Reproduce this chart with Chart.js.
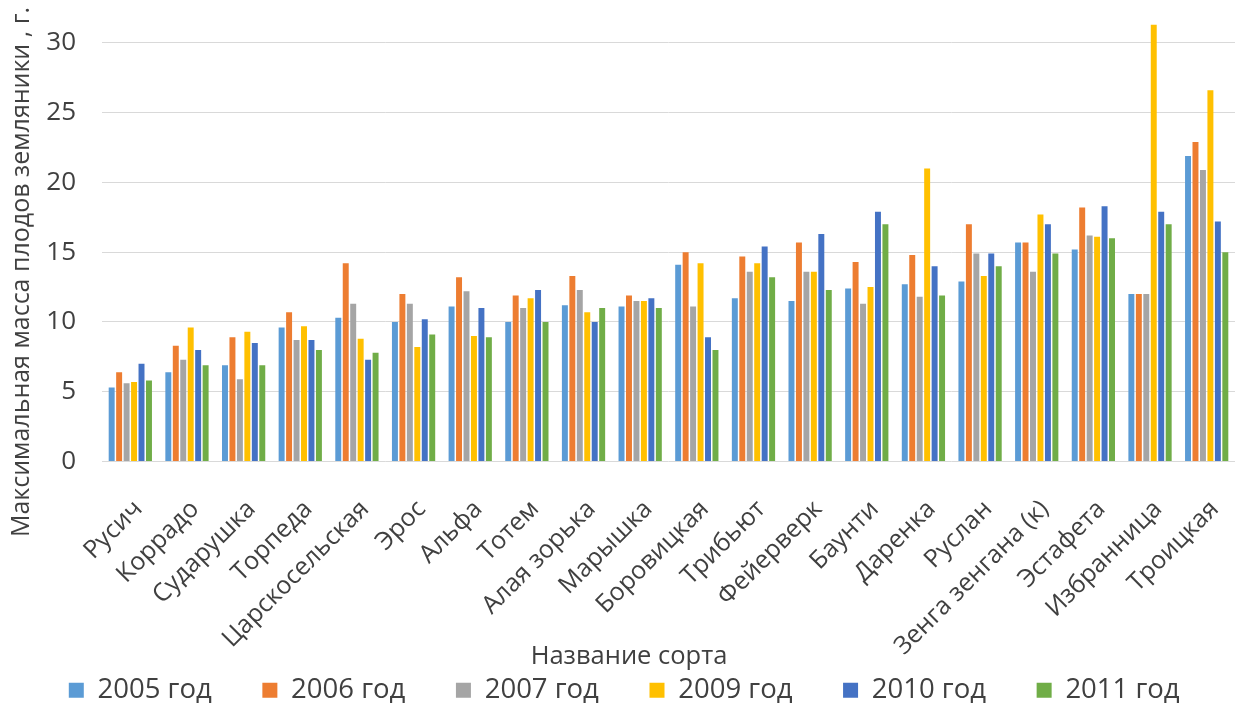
<!DOCTYPE html>
<html>
<head>
<meta charset="utf-8">
<script src="https://cdn.jsdelivr.net/npm/chart.js@4/dist/chart.umd.min.js"></script>
<style>
  html, body { margin: 0; padding: 0; background: #fff; }
  #wrap { position: relative; width: 1235px; height: 704px; }
</style>
</head>
<body>
<div id="wrap"><canvas id="bar_chart"></canvas></div>
<script>
// sorts and yearly max berry mass, g
var sorts = ["Русич", "Коррадо", "Сударушка", "Торпеда", "Царскосельская", "Эрос", "Альфа", "Тотем",
    "Алая зорька", "Марышка", "Боровицкая", "Трибьют", "Фейерверк", "Баунти", "Даренка", "Руслан",
    "Зенга зенгана (к)", "Эстафета", "Избранница", "Троицкая"];
var years = ["2005 год", "2006 год", "2007 год", "2009 год", "2010 год", "2011 год"];
var y2005 = [5.3, 6.4, 6.9, 9.6, 10.3, 10.0, 11.1, 10.0, 11.2, 11.1, 14.1, 11.7, 11.5, 12.4, 12.7, 12.9, 15.7, 15.2, 12.0, 21.9];
var y2006 = [6.4, 8.3, 8.9, 10.7, 14.2, 12.0, 13.2, 11.9, 13.3, 11.9, 15.0, 14.7, 15.7, 14.3, 14.8, 17.0, 15.7, 18.2, 12.0, 22.9];
var y2007 = [5.6, 7.3, 5.9, 8.7, 11.3, 11.3, 12.2, 11.0, 12.3, 11.5, 11.1, 13.6, 13.6, 11.3, 11.8, 14.9, 13.6, 16.2, 12.0, 20.9];
var y2009 = [5.7, 9.6, 9.3, 9.7, 8.8, 8.2, 9.0, 11.7, 10.7, 11.5, 14.2, 14.2, 13.6, 12.5, 21.0, 13.3, 17.7, 16.1, 31.3, 26.6];
var y2010 = [7.0, 8.0, 8.5, 8.7, 7.3, 10.2, 11.0, 12.3, 10.0, 11.7, 8.9, 15.4, 16.3, 17.9, 14.0, 14.9, 17.0, 18.3, 17.9, 17.2];
var y2011 = [5.8, 6.9, 6.9, 8.0, 7.8, 9.1, 8.9, 10.0, 11.0, 11.0, 8.0, 13.2, 12.3, 17.0, 11.9, 14.0, 14.9, 16.0, 17.0, 15.0];
var yTicks = [0, 5, 10, 15, 20, 25, 30];
var colors = ["#5b9bd5", "#ed7d31", "#a5a5a5", "#ffc000", "#4472c4", "#70ad47"];
var xTitle = "Название сорта";
var yTitle = "Максимальная масса плодов земляники , г.";

var FONT = '"Open Sans", "DejaVu Sans", sans-serif';

// axis titles drawn by hand so they sit where the original has them
var axisTitles = {
    id: "axisTitles",
    afterDraw: function (chart) {
        var ctx = chart.ctx;
        ctx.save();
        ctx.fillStyle = "#404040";
        ctx.textAlign = "center";
        ctx.textBaseline = "middle";
        ctx.font = "25.5px " + FONT;
        ctx.fillText(xTitle, 629, 657);
        ctx.font = "25px " + FONT;
        ctx.translate(22, 272);
        ctx.rotate(-Math.PI / 2);
        ctx.fillText(yTitle, 0, 0);
        ctx.restore();
    }
};

var allSeries = [y2005, y2006, y2007, y2009, y2010, y2011];
var datasets = [];
for (var i = 0; i < years.length; i++) {
    datasets.push({
        label: years[i],
        data: allSeries[i],
        backgroundColor: colors[i],
        borderWidth: 0,
        categoryPercentage: 0.79,
        barPercentage: 0.8
    });
}

var ctx1 = document.getElementById("bar_chart");
var myBarChart = new Chart(ctx1, {
    type: "bar",
    data: { labels: sorts, datasets: datasets },
    plugins: [axisTitles],
    options: {
        responsive: true,
        maintainAspectRatio: false,
        animation: false,
        layout: { padding: { top: 15, right: 0, bottom: -10, left: 42 } },
        plugins: {
            legend: {
                position: "bottom",
                labels: {
                    boxWidth: 15,
                    boxHeight: 15,
                    padding: 22,
                    color: "#404040",
                    font: { family: FONT, size: 27.5 },
                    // extra gap after each entry, like the wide spacing in the original
                    generateLabels: function (chart) {
                        var items = Chart.defaults.plugins.legend.labels.generateLabels(chart);
                        items.forEach(function (it) { it.text = it.text + "\u00a0\u00a0\u00a0\u00a0"; });
                        return items;
                    }
                }
            },
            tooltip: { enabled: false }
        },
        scales: {
            x: {
                grid: { display: false },
                border: { display: false },
                ticks: {
                    autoSkip: false,
                    maxRotation: 45,
                    minRotation: 45,
                    padding: 25,
                    labelOffset: 8,
                    color: "#404040",
                    font: { family: FONT, size: 25 }
                },
                afterFit: function (scale) {
                    scale.height = 193;
                    scale.paddingLeft = 0;
                    scale.paddingRight = 0;
                }
            },
            y: {
                min: 0,
                max: 32,
                bounds: "data",
                grid: { color: "#d9d9d9", drawTicks: false },
                border: { display: false },
                ticks: {
                    padding: 26,
                    color: "#404040",
                    font: { family: FONT, size: 26 }
                },
                afterBuildTicks: function (scale) {
                    scale.ticks = yTicks.map(function (v) { return { value: v }; });
                },
                afterFit: function (scale) {
                    scale.width = 60;
                    scale.paddingTop = 15;
                    scale.paddingBottom = 15;
                }
            }
        }
    }
});
</script>
</body>
</html>
